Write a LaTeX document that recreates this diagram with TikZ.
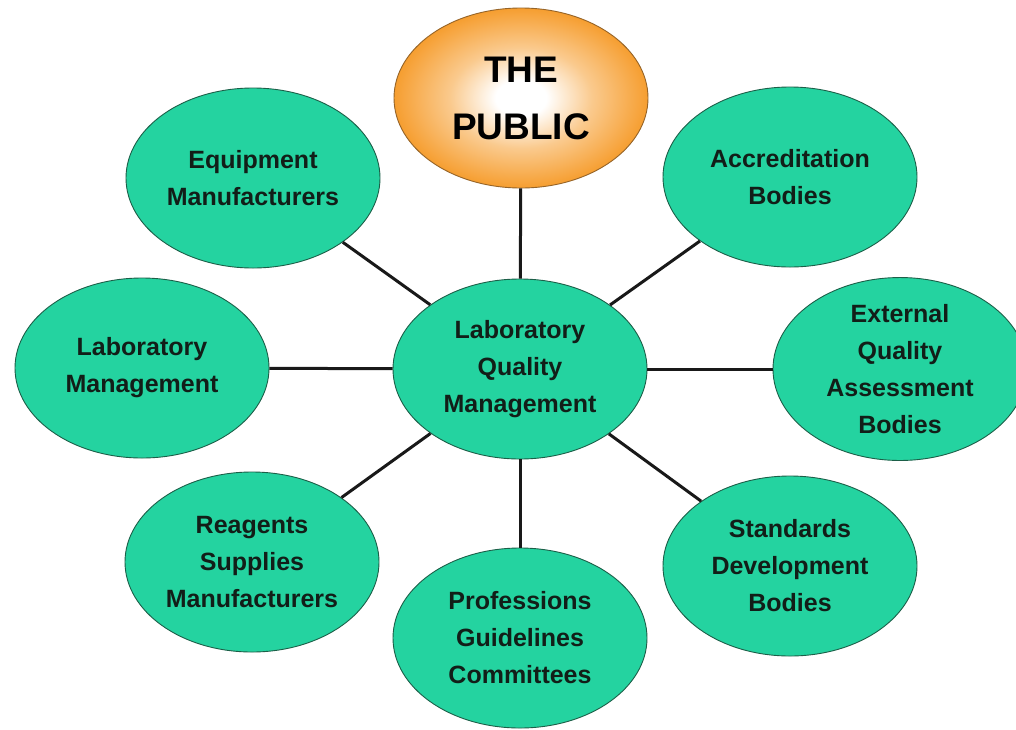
\documentclass[tikz,border=0pt]{standalone}
\usepackage{fontspec}
\setmainfont{Liberation Sans}
\usetikzlibrary{shapes.geometric}
\definecolor{leaf}{RGB}{36,211,160}
\definecolor{leafedge}{RGB}{28,95,72}
\definecolor{ink}{RGB}{18,30,24}
\definecolor{pubedge}{RGB}{246,158,48}
\definecolor{pubrim}{RGB}{150,100,40}
\pgfdeclareradialshading{pubglow}{\pgfpoint{0bp}{0bp}}{%
  color(0bp)=(white); color(5bp)=(white);
  color(14bp)=(pubedge!55!white); color(25bp)=(pubedge); color(50bp)=(pubedge)}
\tikzset{
  bubble/.style={ellipse, minimum width=254pt, minimum height=180pt, inner sep=0pt,
    fill=leaf, draw=leafedge, line width=0.9pt, align=center, text=ink,
    font=\fontsize{25}{37}\selectfont\bfseries},
  pubbubble/.style={bubble, fill=none, shading=pubglow, draw=pubrim, text=black,
    font=\fontsize{37}{57}\selectfont\bfseries},
  spoke/.style={line width=3pt, draw=black!90}
}
\begin{document}
\begin{tikzpicture}[x=1pt,y=-1pt]
\useasboundingbox (0,0) rectangle (1016,729);
\fill[white] (0,0) rectangle (1016,729);
% hub and surrounding bodies
\node[bubble] (lqm) at (520,369) {Laboratory\\Quality\\Management};
\node[pubbubble] (pub) at (521,98) {THE\\PUBLIC};
\node[bubble] (equip) at (253,178) {Equipment\\Manufacturers};
\node[bubble] (accr) at (790,177) {Accreditation\\Bodies};
\node[bubble] (labm) at (142,368) {Laboratory\\Management};
\node[bubble] (eqa) at (900,369) {External\\Quality\\Assessment\\Bodies};
\node[bubble] (reag) at (252,562) {Reagents\\Supplies\\Manufacturers};
\node[bubble] (prof) at (520,638) {Professions\\Guidelines\\Committees};
\node[bubble] (stds) at (790,566) {Standards\\Development\\Bodies};
% spokes from the hub
\foreach \n in {pub,equip,accr,labm,eqa,reag,prof,stds}
  \draw[spoke] (lqm) -- (\n);
\end{tikzpicture}
\end{document}
